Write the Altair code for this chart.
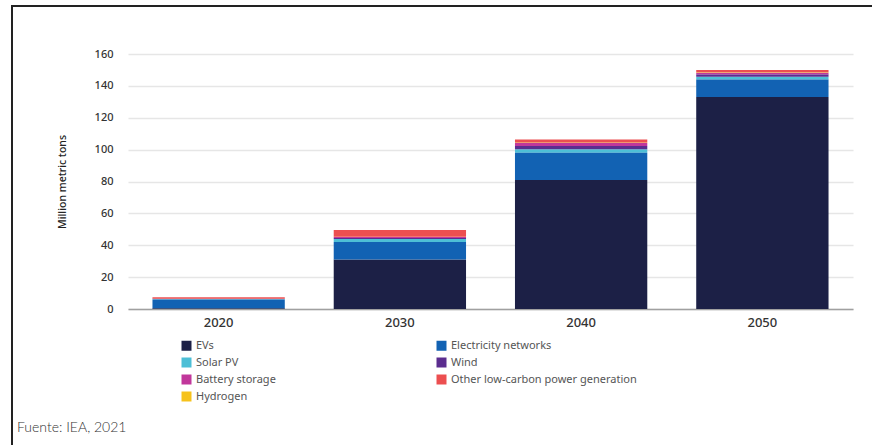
import altair as alt
import pandas as pd

years = ["2020", "2030", "2040", "2050"]
# legend order (column-major, two columns)
technologies = ["EVs", "Solar PV", "Battery storage", "Hydrogen",
                "Electricity networks", "Wind", "Other low-carbon power generation"]
stack_rank = [0, 2, 4, 5, 1, 3, 6]
colors = ["#1c2046", "#4dbfd6", "#c1379b", "#f6c21c", "#1262b3", "#5b2d8f", "#ec4f50"]

evs = [0.4, 31, 81, 133]
solar = [0.2, 2.0, 2.3, 1.7]
battery = [0.1, 0.5, 1.8, 1.0]
hydrogen = [0.0, 0.2, 0.3, 0.3]
electricity = [5.6, 11, 17, 11]
wind = [0.2, 0.6, 2.0, 1.5]
other = [0.9, 4.3, 2.0, 1.5]

series = [evs, solar, battery, hydrogen, electricity, wind, other]
y_ticks = [0, 20, 40, 60, 80, 100, 120, 140, 160]
y_title = "Million metric tons"
footer = ["Fuente: IEA, 2021"]

rows = []
for tech, rank, vals in zip(technologies, stack_rank, series):
    for yr, v in zip(years, vals):
        rows.append({"year": yr, "tech": tech, "rank": rank, "value": v})
df = pd.DataFrame(rows)

FONT = "Noto Sans"

bars = alt.Chart(df).mark_bar().encode(
    x=alt.X("year:N", sort=years,
            scale=alt.Scale(paddingInner=0.27, paddingOuter=0.135),
            axis=alt.Axis(title=None, labelAngle=0, labelFontSize=13,
                          labelColor="#333333", labelPadding=7, ticks=False,
                          domainColor="#a0a0a0", domainWidth=1.5, grid=False,
                          labelFont=FONT, labelFontWeight=500)),
    y=alt.Y("value:Q", stack="zero",
            scale=alt.Scale(domain=[0, 160], nice=False),
            axis=alt.Axis(title=y_title, values=y_ticks, ticks=False, domain=False,
                          labelFontSize=11, labelColor="#333333", labelPadding=15,
                          labelFont=FONT, labelFontWeight=500,
                          titleFont=FONT, titleFontSize=10.5, titleFontWeight=500,
                          titleColor="#222222", titlePadding=27,
                          gridColor="#e6e6e6", gridWidth=1.5)),
    color=alt.Color("tech:N",
                    scale=alt.Scale(domain=technologies, range=colors),
                    legend=alt.Legend(title=None, orient="none", legendX=53, legendY=286,
                                      columns=2, columnPadding=160, rowPadding=5,
                                      symbolType="square", symbolSize=100,
                                      symbolStrokeWidth=0, labelFontSize=11,
                                      labelColor="#555555", labelFont=FONT,
                                      labelLimit=300, padding=0, symbolOffset=0)),
    order=alt.Order("rank:Q", sort="ascending"),
)

frame_df = pd.DataFrame({"k": [0]})
left_border = alt.Chart(frame_df).mark_rule(color="#222222", strokeWidth=2).encode(
    x=alt.value(-116), y=alt.value(-49), y2=alt.value(391))
top_border = alt.Chart(frame_df).mark_rule(color="#222222", strokeWidth=2).encode(
    y=alt.value(-48), x=alt.value(-117), x2=alt.value(744))

footer_text = alt.Chart(pd.DataFrame({"t": footer})).mark_text(
    align="left", baseline="middle", fontSize=14, font="Lato", color="#333333",
    fontWeight=300).encode(text="t:N", x=alt.value(-111), y=alt.value(374))

chart = alt.layer(bars, left_border, top_border, footer_text).properties(
    width=725, height=255,
    autosize=alt.AutoSizeParams(type="none"),
    padding={"left": 128, "top": 54, "right": 19, "bottom": 136},
    background="white",
).configure_view(stroke=None)

chart.save("out.html", embed_options={"renderer": "svg", "actions": False})
